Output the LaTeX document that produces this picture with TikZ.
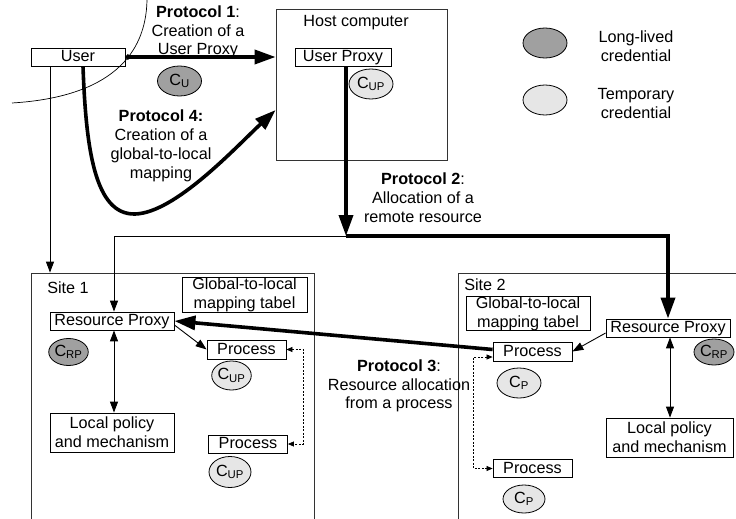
\documentclass[tikz,border=0pt]{standalone}
\usepackage{fontspec}
\setmainfont{Liberation Sans}
\usetikzlibrary{arrows.meta,shapes.geometric}
\definecolor{longcol}{RGB}{160,160,160}
\definecolor{tempcol}{RGB}{230,230,230}
\begin{document}
\begin{tikzpicture}[x=1pt,y=-1pt,
  every node/.style={font=\fontsize{16.2pt}{18.8pt}\selectfont},
  box/.style={draw, line width=0.8pt, inner sep=0pt, align=center},
  onebox/.style={box, text height=12.3pt, text depth=2.4pt},
  frame/.style={draw=black!80, line width=0.8pt, inner sep=0pt},
  cred/.style={draw, ellipse, line width=0.8pt, inner sep=0pt},
  longcred/.style={cred, fill=longcol, minimum width=44pt, minimum height=30pt},
  tempcred/.style={cred, fill=tempcol, minimum width=44pt, minimum height=30pt},
  txt/.style={align=center, inner sep=0pt},
  thinarrow/.style={line width=0.9pt, -{Triangle[length=11pt,width=8pt]}},
  dblarrow/.style={line width=0.9pt, {Triangle[length=11pt,width=8pt]}-{Triangle[length=11pt,width=8pt]}},
  dasharrow/.style={line width=0.7pt, dash pattern=on 2pt off 1.5pt, {Triangle[length=6pt,width=5pt]}-{Triangle[length=6pt,width=5pt]}},
  thickarrow/.style={line width=3.6pt, -{Triangle[length=21pt,width=14pt]}},
]
\useasboundingbox (0,0) rectangle (736,519);

% boundary arc around the user domain
\draw[line width=0.7pt] (147,0) .. controls (146,55) and (110,97) .. (12,103);

% host computer
\node[frame, minimum width=171pt, minimum height=151pt] (host) at (361.5,84.5) {};
\node[txt, text height=12pt, text depth=3pt] (hostlbl) at (356,22) {Host computer};
\node[onebox, minimum width=96pt, minimum height=18pt] (uproxy) at (343,57) {User Proxy};
\node[tempcred] (cup) at (371,84) {C\textsubscript{UP}};

% user
\node[onebox, minimum width=94pt, minimum height=18pt] (user) at (78,57) {User};
\node[longcred] (cu) at (179.5,81) {C\textsubscript{U}};

% legend
\node[longcred] (legdark) at (545,43) {};
\node[txt] (legdarklbl) at (636,46.5) {Long-lived\\credential};
\node[tempcred] (leglight) at (545,100) {};
\node[txt] (leglightlbl) at (636,103.5) {Temporary\\credential};

% site 1
\node[frame, minimum width=283pt, minimum height=300pt] (site1) at (172.5,423) {};
\node[txt, text height=12pt, text depth=3pt] (site1lbl) at (68,289) {Site 1};
\node[box, minimum width=125pt, minimum height=35pt] (gl1) at (244.5,294.5) {Global-to-local\\mapping tabel};
\node[onebox, minimum width=124pt, minimum height=18pt] (rp1) at (112,321) {Resource Proxy};
\node[longcred, minimum width=38pt, minimum height=27pt] (crp1) at (68.5,352) {C\textsubscript{RP}};
\node[box, minimum width=124pt, minimum height=39pt] (lp1) at (112,432.5) {Local policy\\and mechanism};
\node[onebox, minimum width=79pt, minimum height=19pt] (p1a) at (246.5,349.5) {Process};
\node[tempcred, minimum width=39pt, minimum height=29pt] (cup1a) at (231.5,375.5) {C\textsubscript{UP}};
\node[onebox, minimum width=79pt, minimum height=18pt] (p1b) at (248,444) {Process};
\node[tempcred, minimum width=42pt, minimum height=31pt] (cup1b) at (230,472) {C\textsubscript{UP}};

% site 2
\node[frame, minimum width=302pt, minimum height=300pt] (site2) at (609,423) {};
\node[txt, text height=12pt, text depth=3pt] (site2lbl) at (485,286) {Site 2};
\node[box, minimum width=124pt, minimum height=33pt] (gl2) at (528,313.5) {Global-to-local\\mapping tabel};
\node[onebox, minimum width=124pt, minimum height=18pt] (rp2) at (668,328) {Resource Proxy};
\node[longcred, minimum width=40pt, minimum height=26pt] (crp2) at (714,352) {C\textsubscript{RP}};
\node[box, minimum width=127pt, minimum height=39pt] (lp2) at (669.5,437.5) {Local policy\\and mechanism};
\node[onebox, minimum width=79pt, minimum height=19pt] (p2a) at (532.5,351.5) {Process};
\node[tempcred, minimum width=44pt, minimum height=30pt] (cp2a) at (519,383) {C\textsubscript{P}};
\node[onebox, minimum width=79pt, minimum height=18pt] (p2b) at (532.5,468.5) {Process};
\node[tempcred, minimum width=42pt, minimum height=28pt] (cp2b) at (524,499) {C\textsubscript{P}};

% protocol labels
\node[txt] (p1lbl) at (198,32) {\textbf{Protocol 1}:\\Creation of a\\User Proxy};
\node[txt] (p4lbl) at (161,146) {\textbf{Protocol 4:}\\Creation of a\\global-to-local\\mapping};
\node[txt] (p2lbl) at (423,198) {\textbf{Protocol 2}:\\Allocation of a\\remote resource};
\node[txt] (p3lbl) at (399,386) {\textbf{Protocol 3}:\\Resource allocation\\from a process};

% protocol 1: user creates the user proxy
\draw[thickarrow, {Circle[length=5pt]}-{Triangle[length=21pt,width=14pt]}] (user.east) -- (host.west |- user.east);

% protocol 4: global-to-local mapping
\draw[thickarrow] ([xshift=5pt]user.south) .. controls (86,150) and (95,215) .. (135,214)
  .. controls (175,213) and (235,148) .. ([yshift=-25.5pt]host.west);

% protocol 2: allocation of a remote resource
\coordinate (split) at (346,236);
\draw[thickarrow] ([xshift=3pt]uproxy.south) -- (split);
\draw[thickarrow] (split) -| (rp2.north);
\coordinate (rp1in) at ([xshift=2pt]rp1.north);
\draw[thinarrow] (split) -| (rp1in);

% user to site 1
\coordinate (userdown) at ([xshift=-28pt]user.south);
\draw[thinarrow] (userdown) -- (userdown |- site1.north);

% site 1 internals
\draw[thinarrow] ([yshift=-4pt]rp1.east) -- (p1a.west);
\coordinate (rp1down) at ([xshift=2pt]rp1.south);
\draw[dblarrow] (rp1down) -- (rp1down |- lp1.north);
\draw[dasharrow] (p1a.east) -- ++(17,0) |- (p1b.east);

% site 2 internals
\draw[thinarrow] ([yshift=-5pt]rp2.west) -- (p2a.east);
\coordinate (rp2down) at ([xshift=2pt]rp2.south);
\draw[dblarrow] (rp2down) -- (rp2down |- lp2.north);
\draw[dasharrow] ([yshift=-5.5pt]p2a.west) -- ++(-19,0) |- (p2b.west);

% protocol 3: resource allocation from a process
\draw[thickarrow] ([yshift=2pt]p2a.west) -- (rp1.east);
\end{tikzpicture}
\end{document}
